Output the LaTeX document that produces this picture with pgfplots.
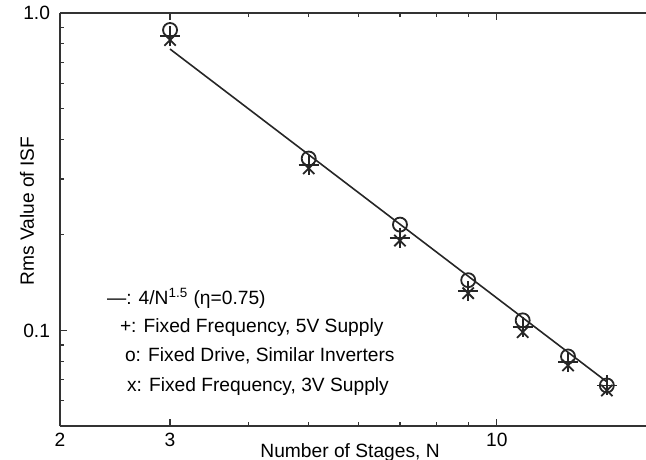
\documentclass[border=0pt]{standalone}
\usepackage{fontspec}
\setmainfont{Liberation Sans}
\usepackage{pgfplots}
\pgfplotsset{compat=1.18}
\newcommand\chartfont{\fontsize{9.6bp}{11.5bp}\selectfont}
\begin{document}
\begin{tikzpicture}
\begin{loglogaxis}[
  at={(0,0)}, anchor=south west,
  scale only axis, width=293bp, height=206.5bp,
  xmin=2, xmax=17.33, ymin=0.05, ymax=1,
  axis x line*=box, axis y line*=left,
  tick align=inside,
  xtick={2,3,10}, xticklabels={2,3,10},
  minor xtick={4,5,6,7,8,9,20},
  ytick={0.1,1}, yticklabels={0.1,1.0},
  minor ytick={0.06,0.07,0.08,0.09,0.2,0.3,0.4,0.5,0.6,0.7,0.8,0.9},
  major tick length=3.5bp, minor tick length=2bp,
  every tick/.style={black!80, line width=0.6bp},
  axis line style={black!80, line width=0.6bp},
  tick label style={font=\chartfont},
  yticklabel style={xshift=-1.5bp},
  /pgf/number format/assume math mode=true,
  xlabel={Number of Stages, N}, ylabel={Rms Value of ISF},
  every axis x label/.style={at={(axis description cs:0.495,0)}, anchor=base, yshift=-15.5bp, font=\chartfont},
  every axis y label/.style={at={(axis description cs:-0.0563,0.52)}, anchor=center, rotate=90, font=\chartfont},
]
\addplot[black!85, line width=0.8bp] coordinates {(3,0.7698) (15,0.0689)};
\addplot[only marks, black!85, mark=+, mark size=5bp, mark options={line width=0.9bp}] coordinates {
(3,0.846) (5,0.3315) (7,0.196) (9,0.133) (11,0.1024) (13,0.0794) (15,0.0671)};
\addplot[only marks, black!85, mark=o, mark size=3.5bp, mark options={line width=0.9bp}] coordinates {
(3,0.884) (5,0.348) (7,0.2155) (9,0.144) (11,0.1076) (13,0.0828) (15,0.0671)};
\addplot[only marks, black!85, mark=x, mark size=4bp, mark options={line width=0.9bp}] coordinates {
(3,0.822) (5,0.324) (7,0.192) (9,0.131) (11,0.0988) (13,0.0776) (15,0.0647)};
\node[anchor=base west, font=\chartfont] at (axis description cs:0.0683,0.293) {—: 4/N\textsuperscript{1.5} (η=0.75)};
\node[anchor=base west, font=\chartfont] at (axis description cs:0.0904,0.2252) {+: Fixed Frequency, 5V Supply};
\node[anchor=base west, font=\chartfont] at (axis description cs:0.099,0.155) {o: Fixed Drive, Similar Inverters};
\node[anchor=base west, font=\chartfont] at (axis description cs:0.1024,0.0847) {x: Fixed Frequency, 3V Supply};
\end{loglogaxis}
\pgfresetboundingbox
\useasboundingbox (-30bp,-17bp) rectangle (293bp,213bp);
\end{tikzpicture}
\end{document}
